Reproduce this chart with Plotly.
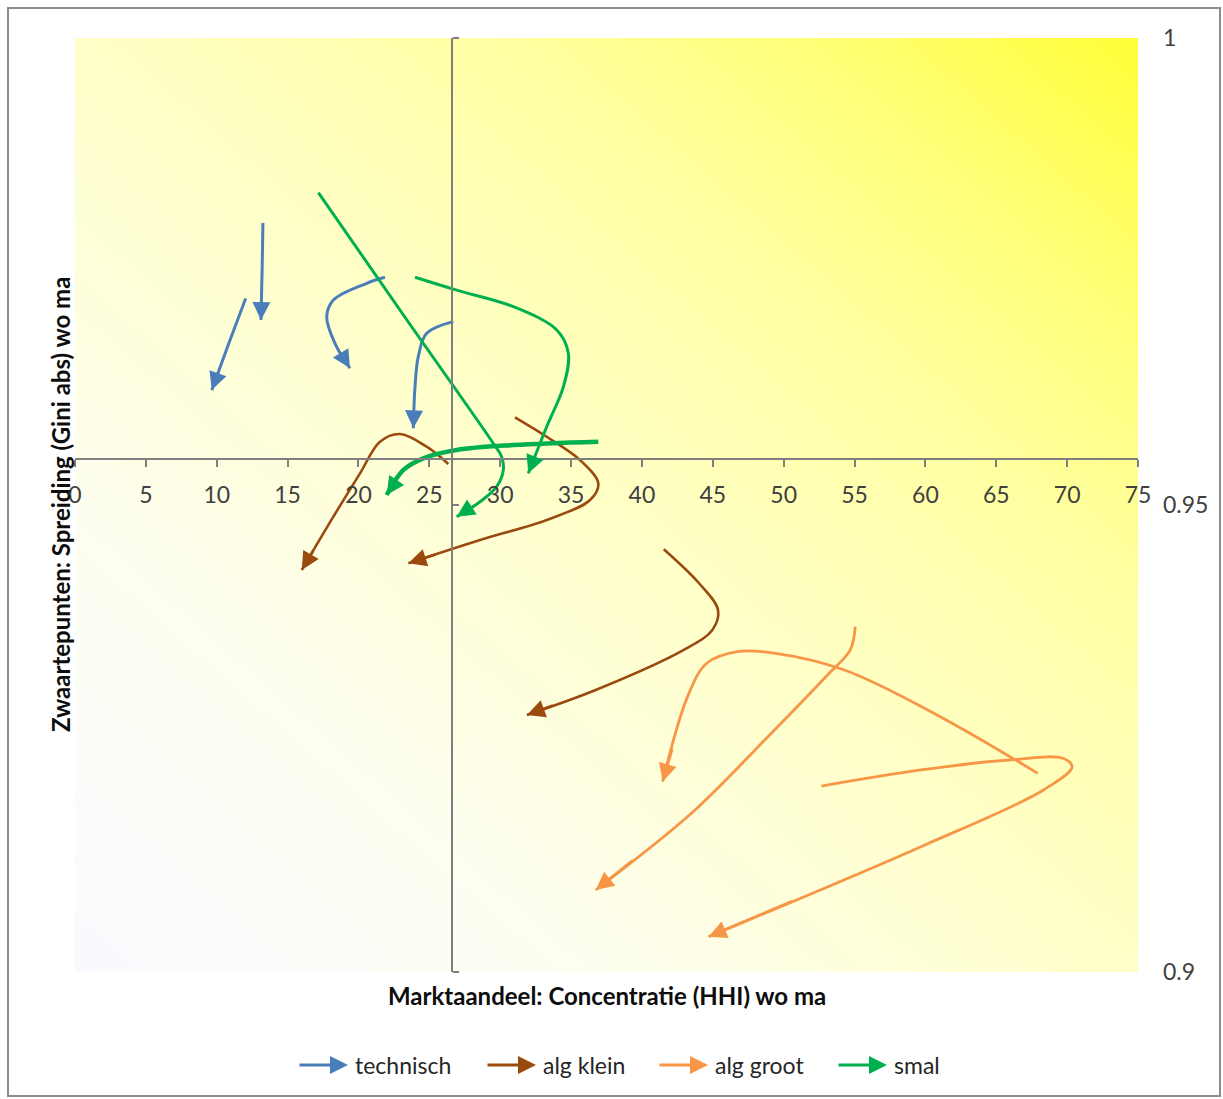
import numpy as np
import plotly.graph_objects as go

# ---------------- data ----------------
x_ticks = [0, 5, 10, 15, 20, 25, 30, 35, 40, 45, 50, 55, 60, 65, 70, 75]
y_ticks = [0.9, 0.95, 1.0]
y_tick_labels = ["0.9", "0.95", "1"]

series_names = ["technisch", "alg klein", "alg groot", "smal"]
series_colors = ["#4A7EBB", "#9A4A0E", "#F79646", "#00B050"]

# technisch (blue)
tech1_x = [13.26, 13.20, 13.12]
tech1_y = [0.9802, 0.9750, 0.9698]
tech2_x = [12.04, 10.90, 9.65]
tech2_y = [0.9721, 0.9675, 0.9623]
tech3_x = [21.87, 20.58, 18.23, 17.76, 18.34, 19.40]
tech3_y = [0.97438, 0.97374, 0.97195, 0.97016, 0.96731, 0.96464]
tech4_x = [26.69, 24.81, 24.22, 23.99, 23.87]
tech4_y = [0.96963, 0.96838, 0.96588, 0.96267, 0.95821]

# alg klein (brown)
klein1_x = [26.34, 24.81, 22.93, 21.52, 20.11, 18.23, 16.00]
klein1_y = [0.95439, 0.95624, 0.95760, 0.95678, 0.95339, 0.94875, 0.94304]
klein2_x = [31.04, 33.28, 35.63, 36.92, 36.34, 33.28, 28.58, 23.52]
klein2_y = [0.95939, 0.95731, 0.95482, 0.95232, 0.95054, 0.94840, 0.94625, 0.94376]
klein3_x = [41.54, 44.03, 45.37, 44.97, 42.95, 36.74, 31.88]
klein3_y = [0.94526, 0.94162, 0.93876, 0.93662, 0.93448, 0.93019, 0.92752]

# alg groot (orange)
groot1_x = [55.05, 54.70, 53.21, 48.89, 43.49, 36.74]
groot1_y = [0.93697, 0.93448, 0.93198, 0.92519, 0.91699, 0.90878]
groot2_x = [67.93, 61.04, 54.29, 49.42, 46.73, 44.57, 43.22, 41.46]
groot2_y = [0.92127, 0.92734, 0.93233, 0.93412, 0.93430, 0.93305, 0.92948, 0.92038]
groot3_x = [52.67, 59.69, 65.90, 69.68, 70.35, 68.33, 59.69, 44.70]
groot3_y = [0.91991, 0.92163, 0.92270, 0.92288, 0.92198, 0.91949, 0.91342, 0.90378]

# smal (green)
smal1_x = [17.17, 23.32, 29.51, 30.10, 30.22, 29.75, 28.58, 26.93]
smal1_y = [0.98344, 0.97002, 0.95660, 0.95517, 0.95375, 0.95196, 0.95035, 0.94875]
smal2_x = [23.99, 26.93, 30.93, 33.99, 34.81, 34.46, 33.28, 31.98]
smal2_y = [0.97438, 0.97300, 0.97123, 0.96874, 0.96624, 0.96267, 0.95838, 0.95339]
smal3_x = [36.92, 30.93, 26.93, 24.58, 23.17, 21.99]
smal3_y = [0.95678, 0.95642, 0.95589, 0.95500, 0.95375, 0.95107]

paths = [
    (tech1_x, tech1_y, 0, 3), (tech2_x, tech2_y, 0, 3),
    (tech3_x, tech3_y, 0, 3), (tech4_x, tech4_y, 0, 3),
    (klein1_x, klein1_y, 1, 2.6), (klein2_x, klein2_y, 1, 2.6),
    (klein3_x, klein3_y, 1, 2.6),
    (groot1_x, groot1_y, 2, 2.8), (groot2_x, groot2_y, 2, 2.8),
    (groot3_x, groot3_y, 2, 2.8),
    (smal1_x, smal1_y, 3, 3), (smal2_x, smal2_y, 3, 3),
    (smal3_x, smal3_y, 3, 4.5),
]

X_RANGE = [0, 75]
Y_RANGE = [0.9, 1.0]
X_AXIS_AT = 0.9549   # y value where horizontal axis crosses
Y_AXIS_AT = 26.6     # x value where vertical axis crosses

FONT = "Lato"
HEAD = 3.6  # arrowhead scale (arrowsize * arrowwidth)

fig = go.Figure()

# ---------------- gradient background ----------------
N = 80
gx = np.linspace(-1, 76, N)
gy = np.linspace(0.899, 1.001, N)
GX, GY = np.meshgrid(gx, gy)
gz = ((GX - X_RANGE[0]) / 75 + (GY - Y_RANGE[0]) / 0.1) / 2
fig.add_trace(go.Heatmap(
    x=gx, y=gy, z=gz, zmin=0, zmax=1, zsmooth="best", showscale=False,
    hoverinfo="skip",
    colorscale=[[0, "#F8FAFF"], [0.25, "#FEFEF0"], [0.5, "#FFFFC8"],
                [0.7, "#FFFFA2"], [0.85, "#FFFF76"], [1, "#FFFF38"]],
))

# ---------------- arrows ----------------
annotations = []
for px, py, si, lw in paths:
    col = series_colors[si]
    fig.add_trace(go.Scatter(
        x=px, y=py, mode="lines", line=dict(color=col, width=lw, shape="spline"),
        showlegend=False, hoverinfo="skip",
    ))
    tx, ty = px[-1], py[-1]
    f = 0.4
    annotations.append(dict(
        x=tx, y=ty, ax=tx + f * (px[-2] - tx), ay=ty + f * (py[-2] - ty),
        xref="x", yref="y", axref="x", ayref="y", text="", showarrow=True,
        arrowhead=2, arrowsize=HEAD / lw, arrowwidth=lw, arrowcolor=col,
        standoff=0,
    ))

# dummy invisible trace to materialise the right-hand label axis
fig.add_trace(go.Scatter(x=[X_RANGE[0]], y=[Y_RANGE[0]], yaxis="y2", mode="markers",
                         marker=dict(opacity=0), showlegend=False, hoverinfo="skip"))

# ---------------- custom legend ----------------
W, H = 1223, 1099
L, R, T, B = 75, 85, 38, 127
pw, ph = W - L - R, H - T - B

def paper_x(pxl):
    return (pxl - L) / pw

def paper_y(pyl):
    return (H - B - pyl) / ph

legend_arrow_tip = [348, 536, 708, 887]
for name, col, tip in zip(series_names, series_colors, legend_arrow_tip):
    annotations.append(dict(
        x=paper_x(tip), y=paper_y(1065), xref="paper", yref="paper",
        ax=-50, ay=0, text="", showarrow=True, arrowhead=2, arrowsize=HEAD / 3,
        arrowwidth=3, arrowcolor=col, standoff=0,
    ))
    annotations.append(dict(
        x=paper_x(tip + 5), y=paper_y(1065), xref="paper", yref="paper",
        text=name, showarrow=False, xanchor="left", yanchor="middle",
        font=dict(family=FONT, size=23, color="#262626"),
    ))

# axis titles
annotations.append(dict(
    x=paper_x(607), y=paper_y(995), xref="paper", yref="paper",
    text="<b>Marktaandeel: Concentratie (HHI) wo ma</b>", showarrow=False,
    xanchor="center", yanchor="middle",
    font=dict(family=FONT, size=24, color="#0D0D0D"),
))
annotations.append(dict(
    x=paper_x(60), y=paper_y(505), xref="paper", yref="paper",
    text="<b>Zwaartepunten: Spreiding (Gini abs) wo ma</b>", showarrow=False,
    textangle=-90, xanchor="center", yanchor="middle",
    font=dict(family=FONT, size=24, color="#0D0D0D"),
))

shapes = [dict(
    type="rect", xref="paper", yref="paper",
    x0=paper_x(8), x1=paper_x(1220), y0=paper_y(1096), y1=paper_y(8),
    line=dict(color="#8C8C8C", width=2), fillcolor="rgba(0,0,0,0)", layer="below",
)]

axis_line_col = "#7F7F7F"
fig.update_layout(
    width=W, height=H,
    margin=dict(l=L, r=R, t=T, b=B, pad=0),
    paper_bgcolor="white", plot_bgcolor="white",
    showlegend=False,
    font=dict(family=FONT, color="#404040"),
    xaxis=dict(
        range=X_RANGE, anchor="free", position=(X_AXIS_AT - Y_RANGE[0]) / (Y_RANGE[1] - Y_RANGE[0]),
        tickvals=x_ticks, ticks="outside", ticklen=7, tickwidth=1.5, tickcolor=axis_line_col,
        showline=True, linecolor=axis_line_col, linewidth=1.5,
        showgrid=False, zeroline=False, ticklabelstandoff=8,
        tickfont=dict(family=FONT, size=23, color="#404040"),
    ),
    yaxis=dict(
        range=Y_RANGE, anchor="free", position=(Y_AXIS_AT - X_RANGE[0]) / (X_RANGE[1] - X_RANGE[0]),
        side="right", tickvals=y_ticks, ticks="outside", ticklen=6, tickwidth=1.5,
        tickcolor=axis_line_col, showticklabels=False,
        showline=True, linecolor=axis_line_col, linewidth=1.5,
        showgrid=False, zeroline=False,
    ),
    yaxis2=dict(
        range=Y_RANGE, overlaying="y", side="right", anchor="x",
        tickvals=y_ticks, ticktext=y_tick_labels, ticks="", showline=False,
        showgrid=False, zeroline=False, ticklabelstandoff=24,
        tickfont=dict(family=FONT, size=23, color="#404040"),
    ),
    annotations=annotations,
    shapes=shapes,
)

fig.write_html("out.html", config={"displayModeBar": False},
               post_script="document.body.style.margin='0';")
